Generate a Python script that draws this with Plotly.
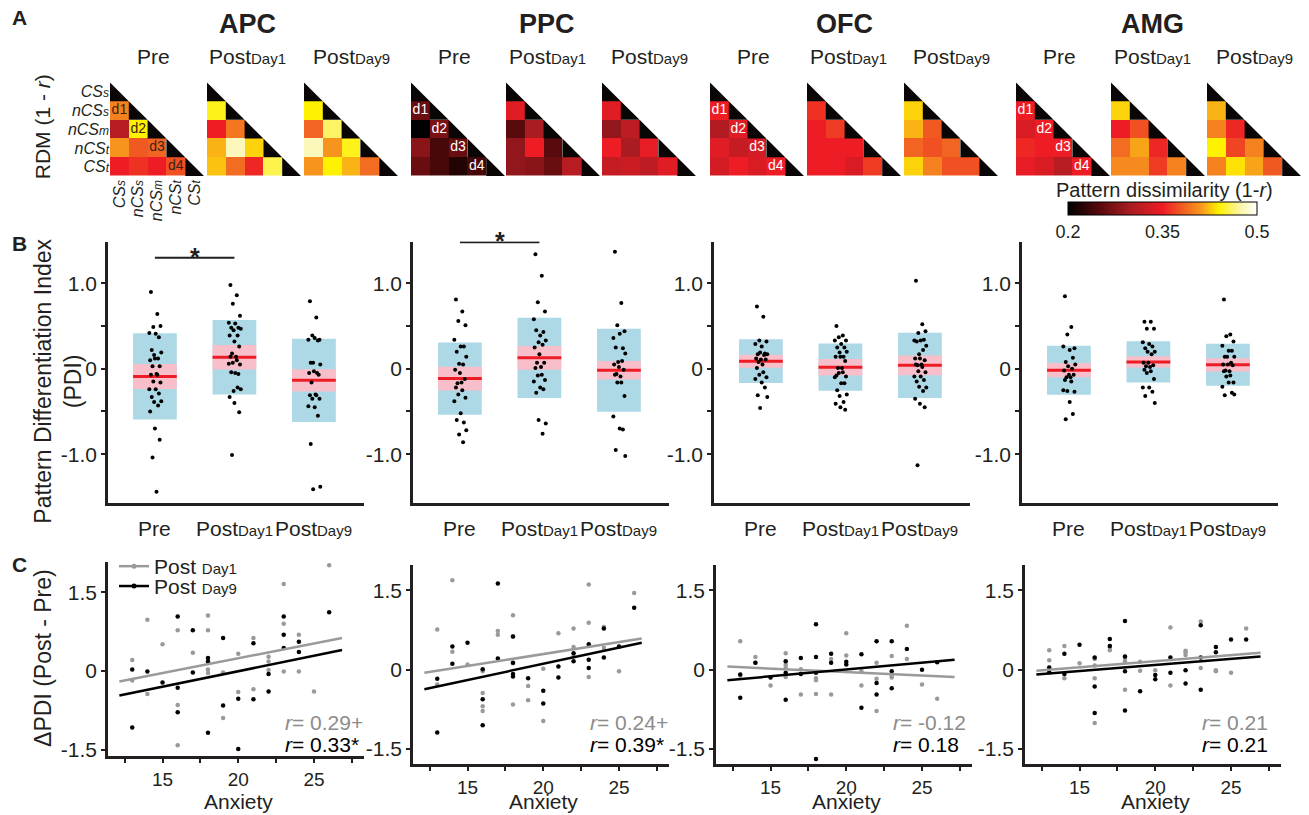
import plotly.graph_objects as go

W, H = 1309, 815
FONT = "Liberation Sans, Arial, Helvetica, sans-serif"
INK = "#231f20"
GREY = "#9a9a9a"
GREY_TXT = "#8c8c8c"

regions = ["APC", "PPC", "OFC", "AMG"]
conditions = ["CS<sub>s</sub>", "nCS<sub>s</sub>", "nCS<sub>m</sub>", "nCS<sub>t</sub>", "CS<sub>t</sub>"]
sessions = ["Pre", "PostDay1", "PostDay9"]

# ---------------- A: pattern dissimilarity (1 - r), lower triangle row by row
# order: (nCSs,CSs) (nCSm,CSs) (nCSm,nCSs) (nCSt,CSs) (nCSt,nCSs) (nCSt,nCSm)
#        (CSt,CSs) (CSt,nCSs) (CSt,nCSm) (CSt,nCSt)
rdm_apc_pre = [0.40, 0.31, 0.44, 0.41, 0.38, 0.385, 0.35, 0.36, 0.35, 0.375]
rdm_apc_day1 = [0.445, 0.35, 0.395, 0.42, 0.48, 0.43, 0.425, 0.39, 0.355, 0.455]
rdm_apc_day9 = [0.44, 0.385, 0.46, 0.48, 0.41, 0.445, 0.41, 0.44, 0.42, 0.39]
rdm_ppc_pre = [0.26, 0.20, 0.27, 0.28, 0.24, 0.26, 0.26, 0.24, 0.22, 0.24]
rdm_ppc_day1 = [0.34, 0.25, 0.30, 0.285, 0.35, 0.25, 0.285, 0.28, 0.26, 0.31]
rdm_ppc_day9 = [0.34, 0.285, 0.315, 0.35, 0.30, 0.345, 0.32, 0.325, 0.315, 0.34]
rdm_ofc_pre = [0.35, 0.305, 0.34, 0.34, 0.32, 0.33, 0.33, 0.35, 0.335, 0.35]
rdm_ofc_day1 = [0.36, 0.35, 0.365, 0.35, 0.35, 0.35, 0.35, 0.35, 0.335, 0.365]
rdm_ofc_day9 = [0.43, 0.42, 0.38, 0.385, 0.375, 0.385, 0.43, 0.40, 0.375, 0.375]
rdm_amg_pre = [0.35, 0.335, 0.35, 0.355, 0.35, 0.35, 0.345, 0.335, 0.31, 0.35]
rdm_amg_day1 = [0.43, 0.35, 0.375, 0.39, 0.415, 0.355, 0.405, 0.405, 0.365, 0.40]
rdm_amg_day9 = [0.42, 0.40, 0.355, 0.44, 0.37, 0.40, 0.40, 0.435, 0.415, 0.38]

# ---------------- B: pattern differentiation index per subject
pdi_apc_pre = [0.90, 0.64, 0.49, 0.50, 0.42, 0.41, 0.37, 0.22, 0.19, 0.16, 0.12, 0.10, 0.12, 0.03, 0.03, -0.06,
               -0.07, -0.07, -0.15, -0.16, -0.24, -0.24, -0.29, -0.33, -0.38, -0.39, -0.43, -0.50, -0.70, -0.83,
               -1.04, -1.44]
pdi_apc_day1 = [0.98, 0.86, 0.76, 0.62, 0.54, 0.53, 0.48, 0.48, 0.47, 0.45, 0.39, 0.39, 0.32, 0.26, 0.18, 0.14,
                0.14, 0.10, 0.07, 0.05, 0.06, -0.05, -0.06, -0.04, -0.24, -0.26, -0.22, -0.33, -0.40, -0.51, -1.01]
pdi_apc_day9 = [0.79, 0.60, 0.39, 0.34, 0.34, 0.36, 0.33, 0.07, 0.05, 0.07, -0.05, -0.05, -0.03, -0.07, -0.16,
                -0.30, -0.31, -0.31, -0.35, -0.35, -0.44, -0.45, -0.55, -0.88, -1.38, -1.41]
pdi_ppc_pre = [0.81, 0.67, 0.56, 0.51, 0.34, 0.26, 0.26, 0.20, 0.14, 0.06, 0.05, -0.01, -0.05, -0.12, -0.17,
               -0.16, -0.22, -0.25, -0.30, -0.34, -0.38, -0.52, -0.63, -0.60, -0.72, -0.77, -0.86]
pdi_ppc_day1 = [1.34, 1.09, 0.78, 0.67, 0.58, 0.39, 0.43, 0.45, 0.33, 0.31, 0.28, 0.25, 0.17, 0.07, 0.07, 0.02,
                0.01, -0.07, -0.08, -0.13, -0.15, -0.22, -0.24, -0.28, -0.64, -0.60, -0.76]
pdi_ppc_day9 = [1.37, 0.77, 0.51, 0.44, 0.36, 0.41, 0.24, 0.25, 0.18, 0.08, 0.09, 0.05, 0.02, -0.01, -0.06,
                -0.09, -0.07, -0.16, -0.16, -0.32, -0.56, -0.70, -0.71, -0.95, -1.02]
pdi_ofc_pre = [0.73, 0.61, 0.33, 0.32, 0.29, 0.26, 0.18, 0.17, 0.17, 0.19, 0.16, 0.12, 0.11, 0.11, 0.08, 0.05,
               0.01, -0.04, -0.07, -0.10, -0.12, -0.16, -0.22, -0.31, -0.33, -0.46]
pdi_ofc_day1 = [0.50, 0.39, 0.37, 0.33, 0.33, 0.29, 0.25, 0.25, 0.20, 0.19, 0.14, 0.14, 0.14, 0.09, 0.01, 0.01,
                -0.08, -0.04, -0.05, -0.09, -0.10, -0.17, -0.17, -0.25, -0.30, -0.32, -0.39, -0.41, -0.45, -0.48]
pdi_ofc_day9 = [1.03, 0.52, 0.42, 0.44, 0.33, 0.33, 0.34, 0.32, 0.27, 0.17, 0.22, 0.12, 0.12, 0.10, 0.04, 0.05,
                0.05, 0.02, -0.03, -0.04, -0.09, -0.09, -0.13, -0.15, -0.22, -0.21, -0.26, -0.35, -0.41, -0.45,
                -1.13]
pdi_amg_pre = [0.85, 0.49, 0.40, 0.24, 0.26, 0.22, 0.13, 0.08, 0.05, 0.03, 0.00, -0.02, -0.07, -0.07, -0.10,
               -0.10, -0.13, -0.15, -0.26, -0.27, -0.25, -0.39, -0.53, -0.59]
pdi_amg_day1 = [0.55, 0.55, 0.47, 0.47, 0.31, 0.29, 0.26, 0.24, 0.20, 0.20, 0.17, 0.07, 0.07, 0.04, 0.03, 0.02,
                -0.01, -0.03, -0.05, -0.12, -0.22, -0.22, -0.27, -0.32, -0.40]
pdi_amg_day9 = [0.81, 0.40, 0.38, 0.32, 0.27, 0.21, 0.21, 0.14, 0.14, 0.14, 0.07, 0.05, 0.05, 0.04, -0.02, -0.03,
                -0.03, -0.08, -0.09, -0.16, -0.21, -0.16, -0.28, -0.31, -0.30]

# group summaries (Pre, PostDay1, PostDay9): mean, SD (blue), 95% CI half-width (pink)
pdi_mean_apc = [-0.09, 0.135, -0.135]
pdi_sd_apc = [0.505, 0.435, 0.487]
pdi_ci_apc = [0.147, 0.143, 0.13]
pdi_mean_ppc = [-0.115, 0.128, -0.016]
pdi_sd_ppc = [0.423, 0.47, 0.486]
pdi_ci_ppc = [0.14, 0.14, 0.108]
pdi_mean_ofc = [0.089, 0.019, 0.04]
pdi_sd_ofc = [0.256, 0.277, 0.382]
pdi_ci_ofc = [0.076, 0.097, 0.116]
pdi_mean_amg = [-0.016, 0.08, 0.046]
pdi_sd_amg = [0.287, 0.242, 0.246]
pdi_ci_amg = [0.083, 0.066, 0.078]

# significant Pre vs PostDay1 comparisons: bracket height
sig_height_apc = 1.30
sig_height_ppc = 1.48

# ---------------- C: change in PDI against anxiety
anx_apc_day1 = [13, 13, 14, 14, 15, 16, 16, 16, 17, 18, 18, 18, 18, 19, 19, 20, 20, 21, 21, 22, 22, 22, 23, 23, 23,
                24, 24, 25, 26]
dpdi_apc_day1 = [0.21, -0.18, 0.98, -0.44, 0.51, 0.78, -0.65, -1.42, 0.35, 1.06, 0.78, 0.03, -0.04, -0.03, -0.90,
                 0.33, -0.40, 0.63, -0.35, 0.27, 0.18, 0.02, 1.66, 0.90, -0.01, 0.69, -0.01, -0.39, 2.02]
anx_apc_day9 = [13, 13, 14, 15, 16, 16, 16, 17, 17, 18, 18, 18, 19, 19, 20, 20, 21, 21, 22, 22, 23, 23, 23, 24, 24, 26]
dpdi_apc_day9 = [0.03, -1.08, -0.01, -0.22, 1.04, -0.32, -0.79, 0.78, -0.03, 0.25, 0.18, -1.18, 0.63, -0.66, -0.53,
                 -1.49, 0.53, -0.54, -0.06, -0.39, 1.04, 0.69, 0.44, 0.56, 0.36, 1.12]
anx_ppc_day1 = [13, 13, 14, 14, 15, 16, 16, 16, 16, 17, 17, 18, 18, 18, 18, 19, 19, 20, 20, 21, 22, 22, 22, 23, 23,
                23, 24, 24, 25, 26]
dpdi_ppc_day1 = [0.76, -0.28, 1.69, 0.34, 0.10, -0.03, -0.44, -0.69, -0.78, 0.73, 0.66, 1.03, 0.63, 0.12, -0.66,
                 -0.31, -0.58, 0.02, -0.97, 0.69, 0.78, 0.43, 0.25, 1.61, 0.89, -0.14, 0.81, 0.41, -0.03, 1.45]
anx_ppc_day9 = [13, 13, 14, 14, 15, 16, 16, 16, 17, 17, 18, 18, 18, 18, 19, 20, 20, 21, 21, 22, 22, 23, 23, 23, 24,
                24, 25, 26]
dpdi_ppc_day9 = [-0.17, -1.19, 0.44, 0.11, 0.51, 0.01, -0.56, -1.05, 1.63, 0.21, 0.63, 0.13, -0.08, -0.13, -0.16,
                 -0.40, -0.64, 0.06, -0.15, 0.31, 0.16, 0.48, 0.19, 0.03, 0.78, 0.23, 0.44, 1.17]
anx_ofc_day1 = [13, 13, 14, 14, 15, 16, 16, 16, 16, 17, 17, 18, 18, 18, 19, 19, 20, 20, 21, 21, 22, 22, 22, 23, 23,
                23, 24, 24, 25, 26]
dpdi_ofc_day1 = [0.54, -0.11, 0.24, 0.13, -0.30, 0.31, 0.10, 0.05, -0.14, 0.01, -0.47, -0.16, -0.20, -0.46, 0.20,
                 -0.47, 0.69, 0.27, -0.03, -0.30, 0.13, -0.17, -0.78, 0.26, -0.12, -0.15, 0.83, 0.20, -0.28, -0.55]
anx_ofc_day9 = [13, 13, 14, 15, 16, 16, 16, 17, 17, 18, 18, 18, 18, 19, 19, 20, 20, 21, 21, 22, 22, 22, 23, 23, 23,
                24, 25, 26]
dpdi_ofc_day9 = [-0.09, -0.53, 0.13, -0.15, 0.16, -0.06, -0.57, 0.22, -0.08, 0.86, 0.24, -0.06, -1.69, 0.30, 0.13,
                 0.15, 0.10, 0.29, -0.72, 0.54, -0.25, -0.47, 0.54, -0.03, -0.35, 0.39, 0.00, 0.14]
anx_amg_day1 = [13, 13, 14, 14, 15, 16, 16, 16, 16, 17, 17, 18, 18, 18, 19, 19, 20, 21, 21, 22, 22, 22, 23, 23, 24,
                24, 25, 26]
dpdi_amg_day1 = [0.37, 0.18, 0.45, -0.16, 0.12, 0.20, 0.08, -0.16, -1.01, 0.42, 0.37, 0.22, 0.16, -0.38, 0.15,
                 -0.02, -0.01, 0.80, -0.30, 0.36, 0.33, 0.28, 0.91, 0.03, -0.01, -0.03, -0.06, 0.78]
anx_amg_day9 = [13, 13, 14, 14, 15, 16, 16, 16, 17, 17, 18, 18, 18, 18, 19, 20, 20, 21, 21, 22, 22, 23, 23, 23, 24,
                24, 25, 26]
dpdi_amg_day9 = [0.04, -0.05, 0.30, -0.08, 0.47, 0.23, -0.32, -0.82, 0.58, 0.45, 0.92, 0.25, -0.03, -0.77, -0.41,
                 -0.10, -0.18, 0.23, -0.06, -0.01, -0.26, 0.84, 0.23, -0.38, 0.43, 0.33, 0.57, 0.57]

# fitted regression lines: anxiety span and line values at its two ends
fit_anx_start = [12.15, 12.15, 12.15, 12.15]
fit_anx_end = [26.85, 26.5, 27.15, 26.95]
fit_day1_start = [-0.20, -0.06, 0.06, -0.02]
fit_day1_end = [0.63, 0.59, -0.14, 0.32]
fit_day9_start = [-0.47, -0.37, -0.20, -0.09]
fit_day9_end = [0.40, 0.51, 0.19, 0.25]
r_day1 = ["0.29+", "0.24+", "-0.12", "0.21"]
r_day9 = ["0.33*", "0.39*", "0.18", "0.21"]

rdm = {"APC": [rdm_apc_pre, rdm_apc_day1, rdm_apc_day9], "PPC": [rdm_ppc_pre, rdm_ppc_day1, rdm_ppc_day9],
       "OFC": [rdm_ofc_pre, rdm_ofc_day1, rdm_ofc_day9], "AMG": [rdm_amg_pre, rdm_amg_day1, rdm_amg_day9]}
pdi = {"APC": [pdi_apc_pre, pdi_apc_day1, pdi_apc_day9], "PPC": [pdi_ppc_pre, pdi_ppc_day1, pdi_ppc_day9],
       "OFC": [pdi_ofc_pre, pdi_ofc_day1, pdi_ofc_day9], "AMG": [pdi_amg_pre, pdi_amg_day1, pdi_amg_day9]}
pdi_stats = {"APC": (pdi_mean_apc, pdi_sd_apc, pdi_ci_apc), "PPC": (pdi_mean_ppc, pdi_sd_ppc, pdi_ci_ppc),
             "OFC": (pdi_mean_ofc, pdi_sd_ofc, pdi_ci_ofc), "AMG": (pdi_mean_amg, pdi_sd_amg, pdi_ci_amg)}
sig_height = {"APC": sig_height_apc, "PPC": sig_height_ppc}
anx = {"APC": (anx_apc_day1, dpdi_apc_day1, anx_apc_day9, dpdi_apc_day9),
       "PPC": (anx_ppc_day1, dpdi_ppc_day1, anx_ppc_day9, dpdi_ppc_day9),
       "OFC": (anx_ofc_day1, dpdi_ofc_day1, anx_ofc_day9, dpdi_ofc_day9),
       "AMG": (anx_amg_day1, dpdi_amg_day1, anx_amg_day9, dpdi_amg_day9)}


def fx(px):
    return px / W


def fy(py):
    return 1 - py / H


def sess_label(name, small=15):
    if name == "Pre":
        return "Pre"
    return f"Post<span style='font-size:{small}px'>{name[4:]}</span>"


def cond_tick(lbl):
    base, sub = lbl.split("<sub>")
    sub = sub.replace("</sub>", "")
    return f"<i>{base}<span style='font-size:12px'>{sub}</span></i>"


fig = go.Figure()
annotations = []
n_axes = 0


def add_axes(xdom, ydom, xa, ya):
    global n_axes
    n_axes += 1
    s = "" if n_axes == 1 else str(n_axes)
    base = dict(showgrid=False, zeroline=False, fixedrange=True)
    fig.update_layout(**{
        f"xaxis{s}": dict(domain=xdom, anchor=f"y{s}", **base, **xa),
        f"yaxis{s}": dict(domain=ydom, anchor=f"x{s}", **base, **ya),
    })
    return f"x{s}", f"y{s}"


def text_at(text, px, py, size, angle=0, color=INK, xanchor="center"):
    annotations.append(dict(text=text, x=fx(px), y=fy(py), xref="paper", yref="paper", showarrow=False,
                            textangle=angle, font=dict(size=size, color=color),
                            xanchor=xanchor, yanchor="middle"))


# ---------------- A: triangular RDMs
mat_left = {"APC": [110, 207, 304], "PPC": [411, 506, 602], "OFC": [710, 807, 904], "AMG": [1016, 1111, 1207]}
MAT, MAT_TOP = 94, 83
title_x = {"APC": 247, "PPC": 547, "OFC": 845, "AMG": 1152}
label_shift = [-4, -6, 0]

tri_x, tri_y = [], []
for k in range(5):
    tri_x += [k - 0.5, k - 0.5, k + 0.5, k - 0.5, None]
    tri_y += [k - 0.5, k + 0.5, k + 0.5, k - 0.5, None]

for r in regions:
    text_at(f"<b>{r}</b>", title_x[r], 24, 27)
    for s in range(3):
        x0 = mat_left[r][s]
        first = (r == "APC" and s == 0)
        tick = dict(tickvals=list(range(5)), ticktext=[cond_tick(c) for c in conditions], ticks="",
                    showticklabels=first, showline=False, tickfont=dict(size=16, color=INK))
        xr, yr = add_axes([fx(x0), fx(x0 + MAT)], [fy(MAT_TOP + MAT), fy(MAT_TOP)],
                          dict(range=[-0.5, 4.5], tickangle=-90, **tick),
                          dict(range=[4.5, -0.5], **tick))
        vals = rdm[r][s]
        z = [[None] * 5 for _ in range(5)]
        idx = 0
        for i in range(1, 5):
            for j in range(i):
                z[i][j] = vals[idx]
                idx += 1
        fig.add_trace(go.Heatmap(z=z, x=list(range(5)), y=list(range(5)), coloraxis="coloraxis",
                                 xaxis=xr, yaxis=yr, hoverinfo="skip"))
        fig.add_trace(go.Scatter(x=tri_x, y=tri_y, mode="lines", fill="toself", fillcolor="#0a0606",
                                 line=dict(width=0, color="#0a0606"), xaxis=xr, yaxis=yr,
                                 hoverinfo="skip", showlegend=False))
        if s == 0:
            dcol = "#3b2314" if r == "APC" else "white"
            fig.add_trace(go.Scatter(x=[0, 1, 2, 3], y=[1, 2, 3, 4], mode="text",
                                     text=["d1", "d2", "d3", "d4"], textfont=dict(size=14, color=dcol),
                                     xaxis=xr, yaxis=yr, hoverinfo="skip", showlegend=False))
        text_at(sess_label(sessions[s]), x0 + MAT / 2 + label_shift[s], 57, 21)

text_at("RDM (1 - <i>r</i>)", 42, 128, 21, angle=-90)
text_at("Pattern dissimilarity (1-<i>r</i>)", 1164, 191, 20)

# ---------------- B: PDI summaries
b_spine = {"APC": 108, "PPC": 413, "OFC": 714, "AMG": 1022}
B_W, B_TOP, B_BOT = 256, 243, 506
BOX_W = 0.55
JIT = [-0.05, 0.03, -0.02, 0.07, -0.07, 0.01, 0.05, -0.04, 0.08, -0.01, 0.04, -0.06, 0.0, 0.06, -0.03, 0.02]

for r in regions:
    sp = b_spine[r]
    xr, yr = add_axes([fx(sp), fx(sp + B_W)], [fy(B_BOT), fy(B_TOP)],
                      dict(range=[-0.59, 2.63], showline=True, linecolor=INK, linewidth=2.5, ticks="",
                           showticklabels=False),
                      dict(range=[-1.57, 1.49], showline=True, linecolor=INK, linewidth=2.5, ticks="outside",
                           ticklen=4, tickwidth=1.5, tickcolor=INK, tickvals=[-1, -0.5, 0, 0.5, 1],
                           ticktext=["-1.0", "", "0", "", "1.0"], tickfont=dict(size=21, color=INK)))
    mean, sd, ci = pdi_stats[r]
    cats = [0, 1, 2]
    fig.add_trace(go.Bar(x=cats, y=[2 * v for v in sd], base=[m - v for m, v in zip(mean, sd)], width=BOX_W,
                         marker=dict(color="#add8e6", line=dict(width=0)), xaxis=xr, yaxis=yr,
                         hoverinfo="skip", showlegend=False))
    fig.add_trace(go.Bar(x=cats, y=[2 * v for v in ci], base=[m - v for m, v in zip(mean, ci)], width=BOX_W,
                         marker=dict(color="#f8bfca", line=dict(width=0)), xaxis=xr, yaxis=yr,
                         hoverinfo="skip", showlegend=False))
    mx, my = [], []
    for c, m in zip(cats, mean):
        mx += [c - BOX_W / 2, c + BOX_W / 2, None]
        my += [m, m, None]
    fig.add_trace(go.Scatter(x=mx, y=my, mode="lines", line=dict(color="#ed1c24", width=3), xaxis=xr, yaxis=yr,
                             hoverinfo="skip", showlegend=False))
    for c in cats:
        pts = pdi[r][c]
        xs = [c + JIT[i % len(JIT)] for i in range(len(pts))]
        fig.add_trace(go.Scatter(x=xs, y=pts, mode="markers", marker=dict(size=4, color="black"),
                                 xaxis=xr, yaxis=yr, hoverinfo="skip", showlegend=False))
        annotations.append(dict(text=sess_label(sessions[c]), x=c, y=fy(532), xref=xr, yref="paper",
                                showarrow=False, font=dict(size=21, color=INK), xanchor="center",
                                yanchor="middle"))
    if r in sig_height:
        h = sig_height[r]
        fig.add_trace(go.Scatter(x=[0, 1], y=[h, h], mode="lines", line=dict(color=INK, width=2),
                                 xaxis=xr, yaxis=yr, cliponaxis=False, hoverinfo="skip", showlegend=False))
        annotations.append(dict(text="<b>*</b>", x=0.5, y=h, xref=xr, yref=yr, showarrow=False,
                                font=dict(size=25, color=INK), xanchor="center", yanchor="bottom", yshift=-15))

text_at("Pattern Differentiation Index<br>(PDI)", 58, 384, 23, angle=-90)

# ---------------- C: anxiety correlations
c_spine = {"APC": 108, "PPC": 413, "OFC": 716, "AMG": 1025}
C_W = 256
c_top = {"APC": 565, "PPC": 568, "OFC": 568, "AMG": 568}
c_bot = {"APC": 761, "PPC": 769, "OFC": 769, "AMG": 769}
c_yrange = {"APC": [-1.63, 2.09], "PPC": [-1.79, 1.99], "OFC": [-1.79, 1.99], "AMG": [-1.79, 1.99]}

for ri, r in enumerate(regions):
    sp = c_spine[r]
    xr, yr = add_axes([fx(sp), fx(sp + C_W)], [fy(c_bot[r]), fy(c_top[r])],
                      dict(range=[11.4, 28.3], showline=True, linecolor=INK, linewidth=2.5, ticks="outside",
                           ticklen=4, tickwidth=2, tickcolor=INK, tickvals=[12.5, 15, 17.5, 20, 22.5, 25, 27.5],
                           ticktext=["", "15", "", "20", "", "25", ""], tickfont=dict(size=19, color=INK)),
                      dict(range=c_yrange[r], showline=True, linecolor=INK, linewidth=2.5, ticks="outside",
                           ticklen=4, tickwidth=1.5, tickcolor=INK, tickvals=[-1.5, 0, 1.5],
                           ticktext=["-1.5", "0", "1.5"], tickfont=dict(size=21, color=INK)))
    a1, d1, a9, d9 = anx[r]
    fig.add_trace(go.Scatter(x=a1, y=d1, mode="markers", marker=dict(size=4.5, color=GREY), xaxis=xr, yaxis=yr,
                             hoverinfo="skip", showlegend=False))
    fig.add_trace(go.Scatter(x=a9, y=d9, mode="markers", marker=dict(size=4.5, color="black"), xaxis=xr,
                             yaxis=yr, hoverinfo="skip", showlegend=False))
    fig.add_trace(go.Scatter(x=[fit_anx_start[ri], fit_anx_end[ri]], y=[fit_day1_start[ri], fit_day1_end[ri]],
                             mode="lines", line=dict(color=GREY, width=2.5), xaxis=xr, yaxis=yr,
                             hoverinfo="skip", showlegend=False))
    fig.add_trace(go.Scatter(x=[fit_anx_start[ri], fit_anx_end[ri]], y=[fit_day9_start[ri], fit_day9_end[ri]],
                             mode="lines", line=dict(color="black", width=2.5), xaxis=xr, yaxis=yr,
                             hoverinfo="skip", showlegend=False))
    annotations.append(dict(text=f"<i>r</i>= {r_day1[ri]}", x=175 / C_W, y=fy(727), xref=f"{xr} domain",
                            yref="paper", showarrow=False, font=dict(size=21, color=GREY_TXT),
                            xanchor="left", yanchor="middle"))
    annotations.append(dict(text=f"<i>r</i>= {r_day9[ri]}", x=175 / C_W, y=fy(749), xref=f"{xr} domain",
                            yref="paper", showarrow=False, font=dict(size=21, color="black"),
                            xanchor="left", yanchor="middle"))
    annotations.append(dict(text="Anxiety", x=20, y=fy(806), xref=xr, yref="paper", showarrow=False,
                            font=dict(size=21, color=INK), xanchor="center", yanchor="middle"))
    if r == "APC":
        fig.add_trace(go.Scatter(x=[None], y=[None], mode="lines+markers", name="Post " + sess_label("PostDay1")[4:],
                                 line=dict(color=GREY, width=2.5), marker=dict(size=5, color=GREY),
                                 xaxis=xr, yaxis=yr, legend="legend"))
        fig.add_trace(go.Scatter(x=[None], y=[None], mode="lines+markers", name="Post " + sess_label("PostDay9")[4:],
                                 line=dict(color="black", width=2.5), marker=dict(size=5, color="black"),
                                 xaxis=xr, yaxis=yr, legend="legend2"))

text_at("ΔPDI (Post - Pre)", 43, 662, 23, angle=-90)

# panel letters
for letter, py in [("A", 18), ("B", 245), ("C", 568)]:
    text_at(f"<b>{letter}</b>", 10, py, 21, xanchor="left")

# colour scale for dissimilarity
hot = [[0.0, "#000000"], [0.17, "#5a0a0c"], [0.33, "#a81c22"], [0.5, "#ee1c24"], [0.6, "#f05a22"],
       [0.7, "#f7941e"], [0.8, "#fff200"], [0.9, "#fbf49a"], [1.0, "#ffffff"]]

legend_style = dict(font=dict(size=21, color=INK), bgcolor="rgba(0,0,0,0)", xanchor="left", yanchor="middle",
                    itemwidth=30, borderwidth=0)
fig.update_layout(
    width=W, height=H, margin=dict(l=0, r=0, t=0, b=0),
    paper_bgcolor="white", plot_bgcolor="rgba(0,0,0,0)",
    font=dict(family=FONT, color=INK),
    barmode="overlay", showlegend=True,
    legend=dict(x=fx(114), y=fy(570), **legend_style),
    legend2=dict(x=fx(114), y=fy(590), **legend_style),
    coloraxis=dict(colorscale=hot, cmin=0.2, cmax=0.5,
                   colorbar=dict(orientation="h", x=fx(1162.5), xanchor="center", y=fy(237), yanchor="bottom",
                                 len=189, lenmode="pixels", thickness=13, thicknessmode="pixels",
                                 outlinewidth=1, outlinecolor="black", tickvals=[0.2, 0.35, 0.5],
                                 ticktext=["0.2", "0.35", "0.5"], ticks="", ticklen=0,
                                 tickfont=dict(size=18, color=INK), xpad=0, ypad=0)),
    annotations=annotations,
)

fig.write_html("out.html")
